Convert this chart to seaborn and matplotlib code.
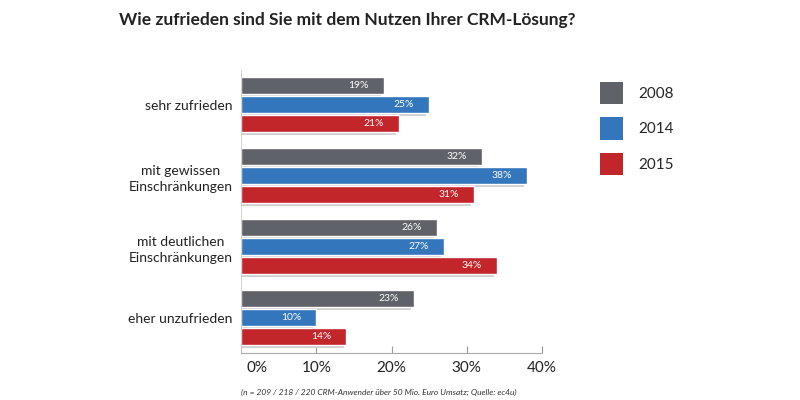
import pandas as pd
import matplotlib
matplotlib.use("Agg")
import matplotlib.pyplot as plt
import matplotlib.patheffects as pe
from matplotlib.patches import Patch
from matplotlib.transforms import ScaledTranslation
import seaborn as sns

# Daten
kategorien = ["sehr zufrieden", "mit gewissen\nEinschränkungen",
              "mit deutlichen\nEinschränkungen", "eher unzufrieden"]
jahre = ["2008", "2014", "2015"]
werte_2008 = [19, 32, 26, 23]
werte_2014 = [25, 38, 27, 10]
werte_2015 = [21, 31, 34, 14]
xticks = [0, 10, 20, 30, 40]
farben = ["#5f6268", "#3476bb", "#c2252a"]

df = pd.DataFrame({
    "Kategorie": kategorien * 3,
    "Jahr": [j for j in jahre for _ in kategorien],
    "Anteil": werte_2008 + werte_2014 + werte_2015,
})

sns.set_style("white")
plt.rcParams["font.family"] = ["Lato", "DejaVu Sans"]

fig = plt.figure(figsize=(8, 4), dpi=100)
ax = fig.add_axes([241 / 800, 1 - 353 / 400, 301 / 800, 283 / 400])

sns.barplot(data=df, y="Kategorie", x="Anteil", hue="Jahr", orient="h",
            palette=farben, width=0.8, gap=0.1, ax=ax, legend=False,
            saturation=1)

# Schatten + Beschriftung in den Balken
for patch in ax.patches:
    patch.set_path_effects([
        pe.SimplePatchShadow(offset=(-2, -2), shadow_rgbFace="#cfcfcf", alpha=1),
        pe.Normal(),
    ])
    w = patch.get_width()
    yc = patch.get_y() + patch.get_height() / 2
    ax.annotate(f"{w:.0f}%", xy=(w, yc), xytext=(-15, 0),
                textcoords="offset pixels", ha="right", va="center",
                color="white", fontsize=7.5)

ax.set_xlim(0, 40)
ax.set_ylim(3.5, -0.49)
ax.set_xticks(xticks)
ax.set_xticklabels([f"{t}%" for t in xticks], fontsize=11, color="#222222")
ax.set_yticks(range(len(kategorien)))
ax.set_yticklabels(kategorien, fontsize=10, color="#222222",
                   multialignment="center", linespacing=1.4)
ax.set_xlabel("")
ax.set_ylabel("")

ax.tick_params(axis="x", direction="in", length=5, width=0.8,
               color="#999999", pad=6, bottom=True)
ax.tick_params(axis="y", length=0, pad=6)
for s in ["top", "right"]:
    ax.spines[s].set_visible(False)
ax.spines["bottom"].set_color("#aaaaaa")
ax.spines["bottom"].set_linewidth(0.8)
ax.spines["left"].set_color("#cccccc")
ax.spines["left"].set_linewidth(0.6)

# "0%" steht etwas rechts vom Strich
erstes = ax.get_xticklabels()[0]
erstes.set_transform(erstes.get_transform()
                     + ScaledTranslation(16 / 100, 0, fig.dpi_scale_trans))

# Legende
handles = [Patch(facecolor=c, edgecolor="none") for c in farben]
fig.legend(handles, jahre, loc="upper left",
           bbox_to_anchor=(592 / 800, 1 - 74 / 400), frameon=False,
           fontsize=11, handlelength=1.55, handleheight=1.9,
           labelspacing=0.85, handletextpad=1.0, borderpad=0)

fig.text(119 / 800, 1 - 20 / 400,
         "Wie zufrieden sind Sie mit dem Nutzen Ihrer CRM-Lösung?",
         fontsize=12.5, fontweight="bold", color="#222222",
         ha="left", va="center")
fig.text(241 / 800, 1 - 392 / 400,
         "(n = 209 / 218 / 220 CRM-Anwender über 50 Mio. Euro Umsatz; Quelle: ec4u)",
         fontsize=6, style="italic", color="#333333", ha="left", va="center")

fig.savefig("out.png", dpi=100, facecolor="white")
